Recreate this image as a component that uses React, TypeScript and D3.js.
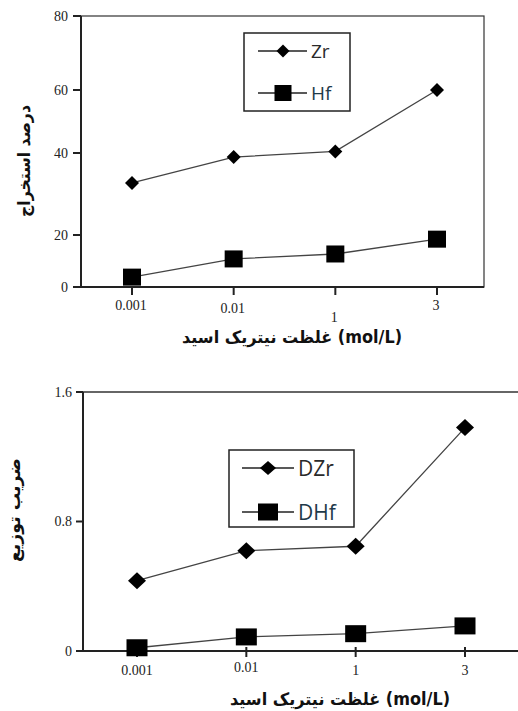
import React from "react";
import * as d3 from "d3";

const categories = ["0.001", "0.01", "1", "3"];
const zrPercent = [32.7, 39, 40.5, 60];
const hfPercent = [3.8, 10.8, 12.7, 18.4];
const topYTicks = [0, 20, 40, 60, 80];

const dZr = [0.434, 0.62, 0.647, 1.38];
const dHf = [0.02, 0.087, 0.107, 0.155];
const bottomYTicks = [0, 0.8, 1.6];

const xTitle = "غلظت نیتریک اسید (mol/L)";
const topYTitle = "درصد استخراج";
const bottomYTitle = "ضریب توزیع";

const serif = "'Liberation Serif', 'DejaVu Serif', serif";
const persian = "'DejaVu Sans', 'Noto Sans', sans-serif";
const legendFont = "'Open Sans', 'Noto Sans', sans-serif";
const lineColor = "#444";

function Diamond({ x, y, w, h }: { x: number; y: number; w: number; h: number }) {
  return (
    <path
      d={`M${x},${y - h / 2} L${x + w / 2},${y} L${x},${y + h / 2} L${x - w / 2},${y} Z`}
      fill="#000"
    />
  );
}

function Square({ x, y, w, h }: { x: number; y: number; w: number; h: number }) {
  return <rect x={x - w / 2} y={y - h / 2} width={w} height={h} fill="#000" />;
}

export default function App() {
  // top chart scales
  const xTop = d3.scalePoint<string>().domain(categories).range([132, 437]);
  const yTop = d3.scaleLinear().domain([0, 20, 40, 60, 80]).range([287, 235, 153, 90, 16]);
  const topLine = d3
    .line<number>()
    .x((_, i) => xTop(categories[i]) as number)
    .y((d) => yTop(d));

  // bottom chart scales
  const xBot = d3.scalePoint<string>().domain(categories).range([137, 465]);
  const yBot = d3.scaleLinear().domain([0, 1.6]).range([651, 392]);
  const botLine = d3
    .line<number>()
    .x((_, i) => xBot(categories[i]) as number)
    .y((d) => yBot(d));

  const topLabelY = [310, 313, 322, 310];
  const botLabelY = [675, 672, 675, 675];

  return (
    <svg width={518} height={711} style={{ position: "absolute", left: 0, top: 0, background: "#fff" }}>
      <rect width={518} height={711} fill="#fff" />

      {/* ===== TOP CHART ===== */}
      <rect x={81} y={16} width={403} height={271} fill="none" stroke="#333" strokeWidth={1.2} />
      <line x1={81} y1={16} x2={81} y2={288} stroke="#222" strokeWidth={2} />
      <line x1={80} y1={287} x2={484} y2={287} stroke="#222" strokeWidth={2} />
      {topYTicks.map((t) => (
        <g key={t}>
          <line x1={73} x2={81} y1={yTop(t)} y2={yTop(t)} stroke="#222" strokeWidth={2} />
          <text x={68} y={yTop(t)} dy="0.35em" textAnchor="end" fontFamily={serif} fontSize={14} fill="#222">
            {t}
          </text>
        </g>
      ))}
      {categories.map((c, i) => (
        <g key={c}>
          <line x1={xTop(c)} x2={xTop(c)} y1={287} y2={295} stroke="#222" strokeWidth={2} />
          <text
            x={(xTop(c) as number) - 1}
            y={topLabelY[i]}
            textAnchor="middle"
            fontFamily={serif}
            fontSize={14}
            fill="#222"
          >
            {c}
          </text>
        </g>
      ))}
      <path d={topLine(zrPercent) || ""} fill="none" stroke={lineColor} strokeWidth={1.3} />
      <path d={topLine(hfPercent) || ""} fill="none" stroke={lineColor} strokeWidth={1.3} />
      {zrPercent.map((v, i) => (
        <Diamond key={"z" + i} x={xTop(categories[i]) as number} y={yTop(v)} w={14} h={14} />
      ))}
      {hfPercent.map((v, i) => (
        <Square key={"h" + i} x={xTop(categories[i]) as number} y={yTop(v)} w={18} h={17} />
      ))}
      {/* legend top */}
      <rect x={244} y={33} width={106} height={78} fill="#fff" stroke="#222" strokeWidth={1.5} />
      <line x1={258} x2={307} y1={51} y2={51} stroke="#222" strokeWidth={1.3} />
      <Diamond x={283} y={51} w={13} h={13} />
      <text x={311} y={51} dy="0.36em" fontFamily={legendFont} fontSize={19} fill="#2a2a2a">
        Zr
      </text>
      <line x1={258} x2={307} y1={93} y2={93} stroke="#222" strokeWidth={1.3} />
      <Square x={283} y={93} w={17} h={16} />
      <text x={311} y={93} dy="0.36em" fontFamily={legendFont} fontSize={19} fill="#1f3a4a">
        Hf
      </text>
      {/* titles */}
      <text
        x={292}
        y={337}
        dy="0.35em"
        textAnchor="middle"
        fontFamily={persian}
        fontWeight="bold"
        fontSize={17}
        textLength={220}
        lengthAdjust="spacingAndGlyphs"
        fill="#111"
      >
        {xTitle}
      </text>
      <text
        transform="translate(24,161) rotate(-90)"
        dy="0.35em"
        textAnchor="middle"
        fontFamily={persian}
        fontWeight="bold"
        fontSize={17}
        textLength={112}
        lengthAdjust="spacingAndGlyphs"
        fill="#111"
      >
        {topYTitle}
      </text>

      {/* ===== BOTTOM CHART ===== */}
      <line x1={83} y1={392} x2={518} y2={392} stroke="#333" strokeWidth={1.5} />
      <line x1={83} y1={392} x2={83} y2={652} stroke="#222" strokeWidth={2} />
      <line x1={82} y1={651} x2={518} y2={651} stroke="#222" strokeWidth={2} />
      {bottomYTicks.map((t) => (
        <g key={t}>
          <line x1={76} x2={83} y1={yBot(t)} y2={yBot(t)} stroke="#222" strokeWidth={2} />
          <text x={72} y={yBot(t)} dy="0.35em" textAnchor="end" fontFamily={serif} fontSize={14} fill="#222">
            {t}
          </text>
        </g>
      ))}
      {categories.map((c, i) => (
        <g key={c}>
          <line x1={xBot(c)} x2={xBot(c)} y1={647} y2={657} stroke="#222" strokeWidth={2} />
          <text x={xBot(c)} y={botLabelY[i]} textAnchor="middle" fontFamily={serif} fontSize={14} fill="#222">
            {c}
          </text>
        </g>
      ))}
      <path d={botLine(dZr) || ""} fill="none" stroke={lineColor} strokeWidth={1.3} />
      <path d={botLine(dHf) || ""} fill="none" stroke={lineColor} strokeWidth={1.3} />
      {dZr.map((v, i) => (
        <Diamond key={"dz" + i} x={xBot(categories[i]) as number} y={yBot(v)} w={18} h={17} />
      ))}
      {dHf.map((v, i) => (
        <Square key={"dh" + i} x={xBot(categories[i]) as number} y={yBot(v)} w={21} h={17} />
      ))}
      {/* legend bottom */}
      <rect x={229} y={450} width={125} height={77} fill="#fff" stroke="#222" strokeWidth={1.5} />
      <line x1={242} x2={294} y1={468} y2={468} stroke="#222" strokeWidth={1.3} />
      <Diamond x={268} y={468} w={16} h={14} />
      <text x={298} y={468} dy="0.36em" fontFamily={legendFont} fontSize={21} fill="#2a2a2a">
        DZr
      </text>
      <line x1={242} x2={294} y1={512} y2={512} stroke="#222" strokeWidth={1.3} />
      <Square x={268} y={512} w={20} h={17} />
      <text x={298} y={512} dy="0.36em" fontFamily={legendFont} fontSize={21} fill="#1f3a4a">
        DHf
      </text>
      <text
        x={340}
        y={699}
        dy="0.35em"
        textAnchor="middle"
        fontFamily={persian}
        fontWeight="bold"
        fontSize={17}
        textLength={220}
        lengthAdjust="spacingAndGlyphs"
        fill="#111"
      >
        {xTitle}
      </text>
      <text
        transform="translate(14,510) rotate(-90)"
        dy="0.35em"
        textAnchor="middle"
        fontFamily={persian}
        fontWeight="bold"
        fontSize={17}
        textLength={104}
        lengthAdjust="spacingAndGlyphs"
        fill="#111"
      >
        {bottomYTitle}
      </text>
    </svg>
  );
}
